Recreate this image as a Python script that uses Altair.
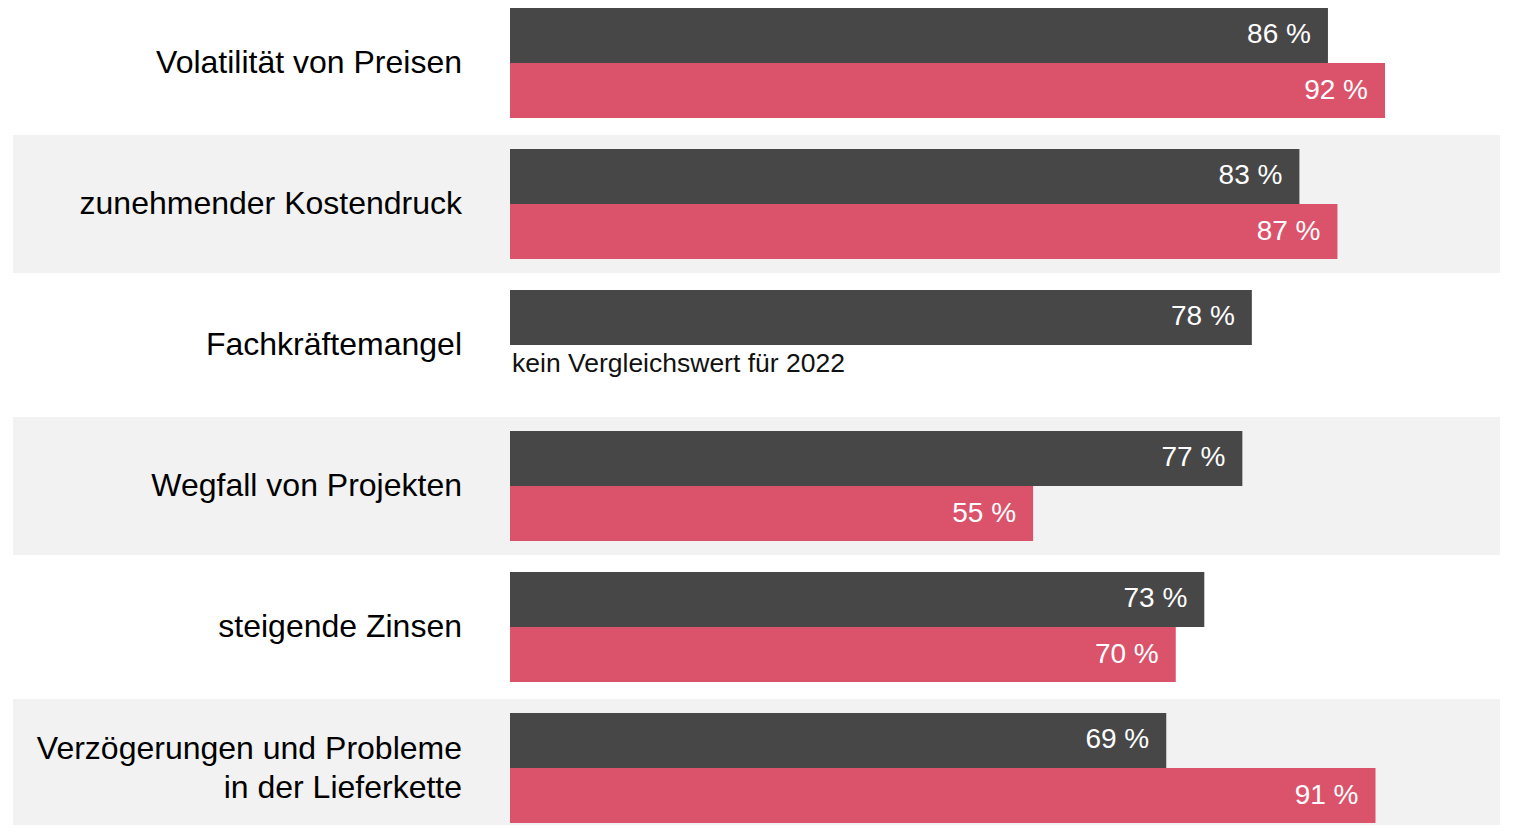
import altair as alt
import pandas as pd

# ---- data ----
kategorien = [
    "Volatilität von Preisen",
    "zunehmender Kostendruck",
    "Fachkräftemangel",
    "Wegfall von Projekten",
    "steigende Zinsen",
    "Verzögerungen und Probleme in der Lieferkette",
]
anzeige = [
    "Volatilität von Preisen",
    "zunehmender Kostendruck",
    "Fachkräftemangel",
    "Wegfall von Projekten",
    "steigende Zinsen",
    "Verzögerungen und Probleme\nin der Lieferkette",
]
werte_2023 = [86, 83, 78, 77, 73, 69]
werte_2022 = [92, 87, None, 55, 70, 91]
serien = ["2023", "2022"]
farben = ["#474747", "#DB536B"]
hinweis = "kein Vergleichswert für 2022"

rows = []
for k, a, b in zip(kategorien, werte_2023, werte_2022):
    rows.append({"Kategorie": k, "Jahr": "2023", "Wert": a})
    if b is not None:
        rows.append({"Kategorie": k, "Jahr": "2022", "Wert": b})
df = pd.DataFrame(rows)
df["Label"] = df["Wert"].astype(int).astype(str) + " %"

df_lab = pd.DataFrame({"Kategorie": kategorien, "Anzeige": anzeige})
df_lab1 = df_lab[~df_lab["Anzeige"].str.contains("\n")]
df_lab2 = df_lab[df_lab["Anzeige"].str.contains("\n")]
df_band = pd.DataFrame({"Kategorie": [k for i, k in enumerate(kategorien) if i % 2 == 1]})
df_note = pd.DataFrame({
    "Kategorie": [k for k, b in zip(kategorien, werte_2022) if b is None],
    "Jahr": "2022", "Wert": 0, "Text": hinweis,
})

FONT = "Liberation Sans"
W, H = 1487, 817

yscale = alt.Scale(domain=kategorien, range=[-15.5, 830.5], paddingInner=0, paddingOuter=0)
xscale = alt.Scale(domain=[-52.256, 104.09], nice=False, zero=False)
yoff = alt.YOffset("Jahr:N", sort=serien,
                   scale=alt.Scale(domain=serien, paddingInner=0, paddingOuter=0.2818))

y_enc = alt.Y("Kategorie:N", sort=kategorien, scale=yscale, axis=None)

bands = alt.Chart(df_band).mark_bar(height=138, color="#F2F2F2", clip=True).encode(
    y=y_enc,
    x=alt.value(0),
    x2=alt.value(W),
)

bars = alt.Chart(df).mark_bar(clip=True).encode(
    y=y_enc,
    yOffset=yoff,
    x=alt.X("Wert:Q", scale=xscale, axis=None),
    x2=alt.datum(0),
    color=alt.Color("Jahr:N", scale=alt.Scale(domain=serien, range=farben), legend=None),
)

values = alt.Chart(df).mark_text(
    align="right", baseline="middle", dx=-17, fontSize=28, font=FONT, color="white"
).encode(
    y=y_enc,
    yOffset=yoff,
    x=alt.X("Wert:Q", scale=xscale, axis=None),
    text="Label:N",
)

note = alt.Chart(df_note).mark_text(
    align="left", baseline="middle", dx=2, dy=-9, fontSize=26.5, font=FONT, color="#111111"
).encode(
    y=y_enc,
    yOffset=yoff,
    x=alt.X("Wert:Q", scale=xscale, axis=None),
    text="Text:N",
)

labels1 = alt.Chart(df_lab1).mark_text(
    align="right", baseline="middle", fontSize=32, font=FONT, color="#000000",
).encode(
    y=y_enc,
    x=alt.value(449),
    text="Anzeige:N",
)

labels2 = alt.Chart(df_lab2).mark_text(
    align="right", baseline="middle", fontSize=32, font=FONT, color="#000000",
    lineBreak="\n", lineHeight=39, dy=-19.5,
).encode(
    y=y_enc,
    x=alt.value(449),
    text="Anzeige:N",
)

chart = alt.layer(bands, bars, values, note, labels1, labels2).properties(
    width=W, height=H,
    padding={"left": 5, "top": 0, "right": 0, "bottom": 0},
).configure(background="white").configure_view(stroke=None)

chart.save("out.html", embed_options={"renderer": "svg", "actions": False})
